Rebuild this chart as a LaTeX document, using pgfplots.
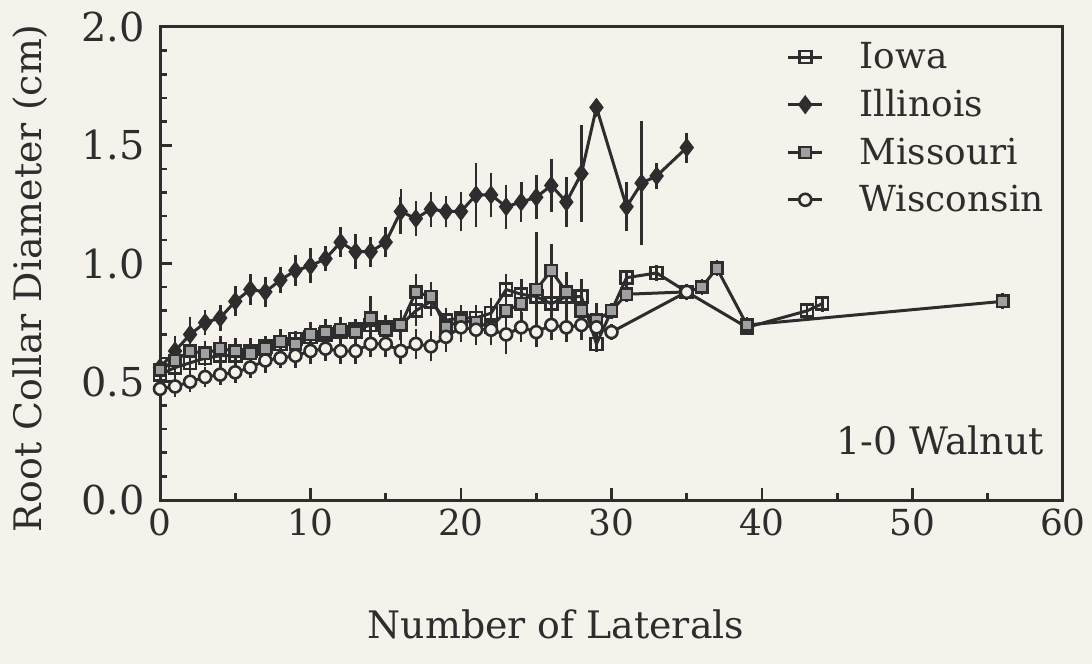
\documentclass[border=0pt]{standalone}
\usepackage{fontspec}
\setmainfont{DejaVu Serif}
\usepackage{pgfplots}
\pgfplotsset{compat=1.18}
\definecolor{bg}{RGB}{244,242,234}
\definecolor{ink}{RGB}{45,45,45}
\pgfplotstableread{
x y e
0 0.53 0
1 0.56 0.02
2 0.58 0.02
3 0.60 0
4 0.61 0.02
5 0.61 0
6 0.63 0.02
7 0.65 0
8 0.66 0.02
9 0.68 0
10 0.69 0.02
11 0.70 0
12 0.71 0.02
13 0.72 0
14 0.74 0.03
15 0.73 0
16 0.74 0.02
17 0.80 0.03
18 0.84 0.03
19 0.76 0.02
20 0.77 0.02
21 0.77 0.02
22 0.79 0.03
23 0.89 0.03
24 0.87 0.03
25 0.86 0.03
26 0.83 0.03
27 0.86 0.03
28 0.86 0.04
29 0.66 0
31 0.94 0
33 0.96 0
35 0.88 0
39 0.73 0
43 0.80 0
44 0.83 0
}\iowa
\pgfplotstableread{
x y e
0 0.56 0.02
1 0.63 0.03
2 0.70 0.04
3 0.75 0.02
4 0.77 0.02
5 0.84 0.03
6 0.89 0.03
7 0.88 0.03
8 0.93 0.02
9 0.97 0.03
10 0.99 0.04
11 1.02 0.02
12 1.09 0.03
13 1.05 0.04
14 1.05 0.03
15 1.09 0.03
16 1.22 0.06
17 1.19 0.04
18 1.23 0.04
19 1.22 0.03
20 1.22 0.05
21 1.29 0.10
22 1.29 0.06
23 1.24 0.06
24 1.26 0.05
25 1.28 0.06
26 1.33 0.08
27 1.26 0.07
28 1.38 0.17
29 1.66 0
31 1.24 0.07
32 1.34 0.23
33 1.37 0.02
35 1.49 0.03
}\illinois
\pgfplotstableread{
x y e
0 0.55 0
1 0.59 0.02
2 0.63 0.03
3 0.62 0.02
4 0.64 0.02
5 0.63 0.02
6 0.62 0.02
7 0.64 0.02
8 0.67 0.02
9 0.66 0.02
10 0.70 0.02
11 0.71 0.02
12 0.72 0.02
13 0.71 0.02
14 0.77 0.06
15 0.72 0.03
16 0.74 0.03
17 0.88 0.04
18 0.86 0.03
19 0.73 0.03
20 0.76 0.03
21 0.75 0.03
22 0.73 0.04
23 0.80 0.04
24 0.83 0.05
25 0.89 0.21
26 0.97 0.08
27 0.88 0.05
28 0.80 0.06
29 0.76 0.04
30 0.80 0
31 0.87 0
35 0.88 0
36 0.90 0
37 0.98 0
39 0.74 0
56 0.84 0
}\missouri
\pgfplotstableread{
x y e
0 0.47 0
1 0.48 0.01
2 0.50 0.01
3 0.52 0.01
4 0.53 0.01
5 0.54 0.01
6 0.56 0.01
7 0.59 0.02
8 0.60 0.01
9 0.61 0.02
10 0.63 0.02
11 0.64 0.02
12 0.63 0.02
13 0.63 0.02
14 0.66 0.02
15 0.66 0.02
16 0.63 0.02
17 0.66 0.03
18 0.65 0.03
19 0.69 0.03
20 0.73 0.03
21 0.72 0.03
22 0.72 0.03
23 0.70 0.05
24 0.73 0.03
25 0.71 0.03
26 0.74 0.03
27 0.73 0.03
28 0.74 0.03
29 0.73 0.03
30 0.71 0
35 0.88 0
}\wisconsin
\begin{document}
\begin{tikzpicture}
\path[fill=bg,use as bounding box] (0bp,0bp) rectangle (546bp,332bp);
\begin{axis}[
  at={(80bp,82bp)}, anchor=south west,
  width=451.5bp, height=236.5bp, scale only axis,
  xmin=0, xmax=60, ymin=0, ymax=2,
  axis line style={ink, line width=1.5bp},
  every tick/.style={ink, line width=1.3bp},
  tick align=inside,
  xtick pos=bottom, ytick pos=left,
  xtick={0,10,...,60}, minor x tick num=1,
  ytick={0,0.5,...,2}, minor y tick num=4,
  major tick length=6bp, minor tick length=3.5bp,
  /pgf/number format/assume math mode=true,
  tick label style={font=\fontsize{18}{21}\selectfont, text=ink},
  yticklabel style={/pgf/number format/fixed, /pgf/number format/fixed zerofill, /pgf/number format/precision=1, xshift=-4bp, font=\fontsize{20}{23}\selectfont},
  xticklabel style={yshift=-1bp},
  xlabel={Number of Laterals},
  ylabel={Root Collar Diameter (cm)},
  label style={font=\fontsize{19}{23}\selectfont, text=ink},
  xlabel style={at={(axis description cs:0.4385,-0.264)}, anchor=center},
  ylabel style={at={(axis description cs:-0.144,0.469)}, anchor=center, rotate=0},
  legend style={at={(0.687,0.985)}, anchor=north west, draw=none, fill=none,
    font=\fontsize{18}{21}\selectfont, text=ink, row sep=5bp, column sep=16bp},
  legend cell align=left,
  every axis plot/.append style={ink, line width=1.5bp},
  error bars/error bar style={ink, line width=1.3bp},
  error bars/error mark options={ink, mark size=4bp, line width=1.3bp},
]
\addplot[mark=square, mark size=3bp, mark options={fill=bg, solid, line width=1.3bp},
  error bars/.cd, y dir=both, y explicit]
  table[x=x, y=y, y error=e] {\iowa};
\addlegendentry{Iowa}
\addplot[mark=diamond*, mark size=3.6bp, mark options={fill=ink, solid},
  error bars/.cd, y dir=both, y explicit]
  table[x=x, y=y, y error=e] {\illinois};
\addlegendentry{Illinois}
\addplot[mark=square*, mark size=2.8bp, mark options={fill=ink!45, solid, line width=1.3bp},
  error bars/.cd, y dir=both, y explicit]
  table[x=x, y=y, y error=e] {\missouri};
\addlegendentry{Missouri}
\addplot[mark=*, mark size=3bp, mark options={fill=bg, solid, line width=1.3bp},
  error bars/.cd, y dir=both, y explicit]
  table[x=x, y=y, y error=e] {\wisconsin};
\addlegendentry{Wisconsin}
\node[font=\fontsize{19}{23}\selectfont, text=ink] at (axis description cs:0.864,0.127) {1-0 Walnut};
\end{axis}
\end{tikzpicture}
\end{document}
